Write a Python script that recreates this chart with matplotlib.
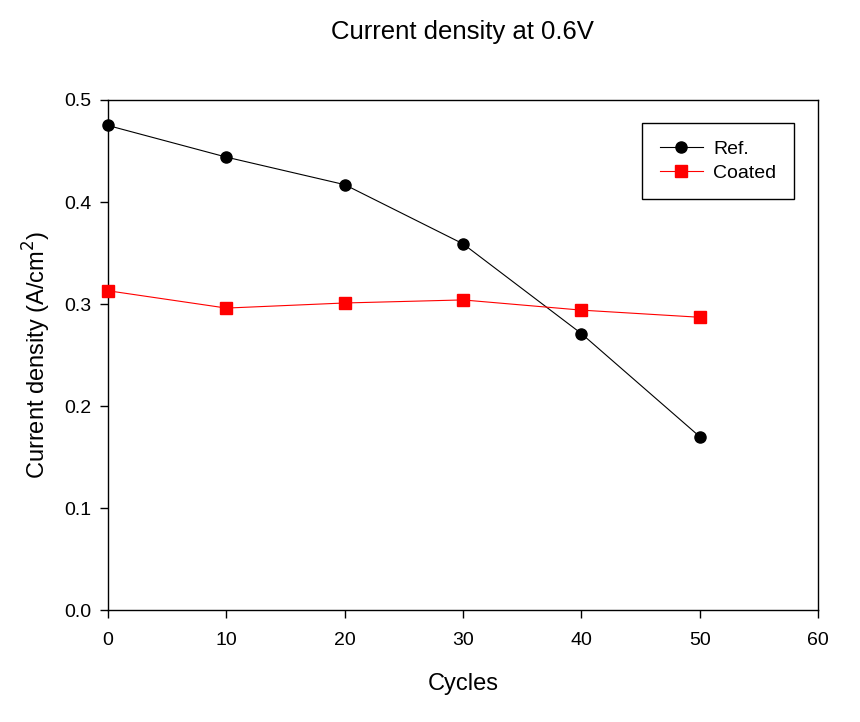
import numpy as np
import matplotlib.pyplot as plt

plt.rcParams['font.family'] = ['Liberation Sans', 'DejaVu Sans']

cycles = [0, 10, 20, 30, 40, 50]
ref = [0.475, 0.444, 0.417, 0.359, 0.271, 0.170]
coated = [0.313, 0.296, 0.301, 0.304, 0.294, 0.287]

fig = plt.figure(figsize=(8.6, 7.22), dpi=100)
ax = fig.add_axes([0.1256, 0.1551, 0.8256, 0.7064])

ax.plot(cycles, ref, '-o', color='black', lw=0.8, markersize=8,
        label='Ref.', clip_on=False, zorder=3)
ax.plot(cycles, coated, '-s', color='red', lw=0.8, markersize=8,
        markeredgecolor='red', label='Coated', clip_on=False, zorder=3)

ax.set_xlim(0, 60)
ax.set_ylim(0, 0.5)
ax.set_xticks(np.arange(0, 61, 10))
ax.set_yticks(np.arange(0, 0.51, 0.1))
ax.yaxis.set_major_formatter(plt.FormatStrFormatter('%.1f'))
ax.tick_params(direction='out', length=6, width=1, labelsize=14, pad=6)
ax.tick_params(axis='x', pad=10)
for s in ax.spines.values():
    s.set_linewidth(1)

ax.set_xlabel('Cycles', fontsize=17, labelpad=17)
ax.set_ylabel('Current density (A/cm$^2$)', fontsize=17, labelpad=8)
fig.text(0.538, 0.956, 'Current density at 0.6V', fontsize=18.5,
         ha='center', va='center')

leg = ax.legend(loc='upper right', bbox_to_anchor=(0.966, 0.955), fontsize=14,
                fancybox=False, framealpha=1, edgecolor='black',
                borderpad=0.9, handlelength=2.2, handletextpad=0.55,
                labelspacing=0.3, borderaxespad=0)
leg.get_frame().set_linewidth(1)

fig.savefig('out.png', dpi=100)
